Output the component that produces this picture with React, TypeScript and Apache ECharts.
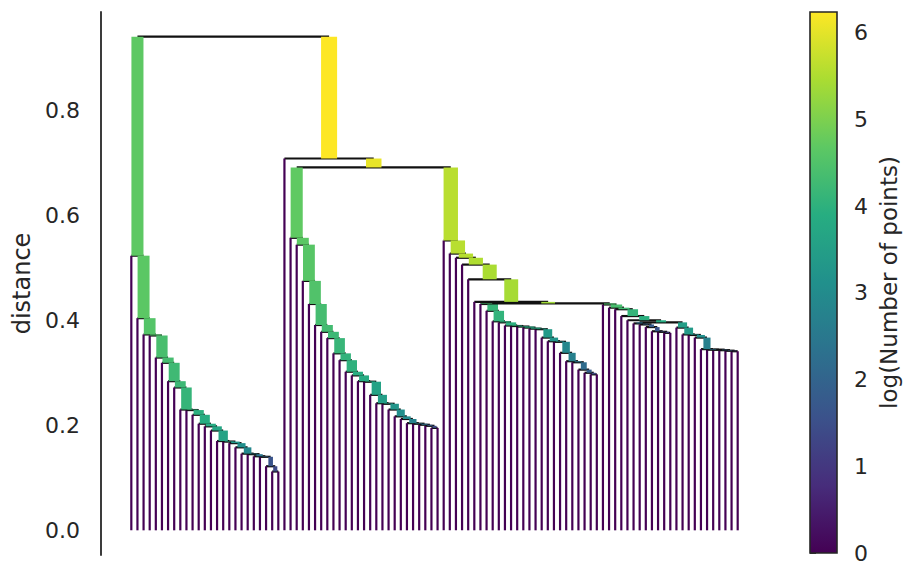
import React, { useEffect, useRef } from "react";
import * as echarts from "echarts";

// Each chain is a staircase of single-linkage merges: entry k joins the k-th leaf
// (counting from the left) to everything on its right. Heights are distances,
// sizes are the number of points in the cluster formed by that merge.
const chainAHeights = [0.523, 0.404, 0.373, 0.371, 0.329, 0.319, 0.284, 0.272, 0.23, 0.229, 0.22, 0.203, 0.198, 0.19, 0.17, 0.169, 0.166, 0.158, 0.146, 0.145, 0.141, 0.14, 0.122, 0.112];
const chainASizes = [108, 105, 95, 90, 81, 77, 70, 67, 60, 57, 52, 49, 45, 40, 37, 33, 27, 22, 18, 15, 11, 8, 5, 4];

const chainBHeights = [0.557, 0.544, 0.475, 0.431, 0.391, 0.378, 0.366, 0.337, 0.324, 0.302, 0.295, 0.284, 0.283, 0.258, 0.242, 0.241, 0.23, 0.217, 0.212, 0.204, 0.203, 0.201, 0.199, 0.195];
const chainBSizes = [110, 105, 99, 90, 77, 74, 67, 63, 57, 55, 49, 47, 45, 37, 33, 30, 26, 22, 19, 16, 12, 9, 6, 4];

// chain C ends on the C1 + C2 merge instead of a leaf
const chainCHeights = [0.552, 0.527, 0.519, 0.506, 0.478, 0.435];
const chainCSizes = [270, 268, 262, 245, 235, 225];

const chainC1Heights = [0.431, 0.418, 0.398, 0.396, 0.39, 0.389, 0.388, 0.386, 0.384, 0.383, 0.367, 0.36, 0.359, 0.338, 0.322, 0.32, 0.306, 0.3, 0.297];
const chainC1Sizes = [80, 62, 58, 55, 52, 50, 48, 45, 42, 38, 30, 25, 22, 18, 15, 12, 9, 6, 4];

// chain C2 ends on the C2a + C2b merge
const chainC2Heights = [0.43, 0.424, 0.421, 0.408, 0.4];
const chainC2Sizes = [85, 80, 72, 60, 52];

const chainC2aHeights = [0.394, 0.392, 0.387, 0.379, 0.378, 0.376];
const chainC2aSizes = [10, 7, 6, 5, 4, 3];

const chainC2bHeights = [0.386, 0.373, 0.372, 0.367, 0.345, 0.344, 0.344, 0.343, 0.342, 0.341];
const chainC2bSizes = [33, 30, 25, 22, 15, 11, 9, 7, 5, 3];

// upper merges: root, right branch, B + C, C1 + C2, C2a + C2b
const joinHeights = [0.94, 0.708, 0.691, 0.432, 0.396];
const joinSizes = [620, 512, 420, 215, 47];

const yTicks = [0, 0.2, 0.4, 0.6, 0.8];
const colorTicks = [0, 1, 2, 3, 4, 5, 6];

// viridis colormap, 9 evenly spaced stops
const VIRIDIS = ["#440154", "#472d7b", "#3b528b", "#2c728e", "#21908c", "#27ad81", "#5dc863", "#aadc32", "#fde725"];

type Leaf = { leaf: true; x: number };
type Join = { leaf: false; left: TreeNode; right: TreeNode; h: number; size: number; x: number };
type TreeNode = Leaf | Join;

const mkLeaf = (): TreeNode => ({ leaf: true, x: 0 });
const mkJoin = (left: TreeNode, right: TreeNode, h: number, size: number): TreeNode => ({ leaf: false, left, right, h, size, x: 0 });

function chain(heights: number[], sizes: number[], tail?: TreeNode): TreeNode {
  let rest = tail ?? mkLeaf();
  for (let k = heights.length - 1; k >= 0; k--) rest = mkJoin(mkLeaf(), rest, heights[k], sizes[k]);
  return rest;
}

function buildTree(): TreeNode {
  const c2ab = mkJoin(chain(chainC2aHeights, chainC2aSizes), chain(chainC2bHeights, chainC2bSizes), joinHeights[4], joinSizes[4]);
  const c2 = chain(chainC2Heights, chainC2Sizes, c2ab);
  const c12 = mkJoin(chain(chainC1Heights, chainC1Sizes), c2, joinHeights[3], joinSizes[3]);
  const c = chain(chainCHeights, chainCSizes, c12);
  const bc = mkJoin(chain(chainBHeights, chainBSizes), c, joinHeights[2], joinSizes[2]);
  const right = mkJoin(mkLeaf(), bc, joinHeights[1], joinSizes[1]);
  return mkJoin(chain(chainAHeights, chainASizes), right, joinHeights[0], joinSizes[0]);
}

function hexToRgb(h: string) {
  return [parseInt(h.slice(1, 3), 16), parseInt(h.slice(3, 5), 16), parseInt(h.slice(5, 7), 16)];
}
function viridis(t: number): string {
  const v = Math.max(0, Math.min(1, t)) * (VIRIDIS.length - 1);
  const i = Math.min(VIRIDIS.length - 2, Math.floor(v));
  const f = v - i;
  const a = hexToRgb(VIRIDIS[i]);
  const b = hexToRgb(VIRIDIS[i + 1]);
  const c = a.map((av, k) => Math.round(av + (b[k] - av) * f));
  return `rgb(${c[0]},${c[1]},${c[2]})`;
}

const PX_PER_PT = 1.78;
const THIN = 2.2; // single-point stems and merge crossbars
const INK = "#262626";
const FONT = "DejaVu Sans";

type Seg = { x1: number; y1: number; x2: number; y2: number; color: string; width: number };

function layout() {
  const root = buildTree();
  let leafCount = 0;
  let maxSize = 1;
  const place = (n: TreeNode): number => {
    if (n.leaf) {
      n.x = 5 + 10 * leafCount++;
      return n.x;
    }
    n.x = (place(n.left) + place(n.right)) / 2;
    return n.x;
  };
  place(root);
  const scan = (n: TreeNode) => {
    if (n.leaf) return;
    if (n !== root) maxSize = Math.max(maxSize, n.size);
    scan(n.left);
    scan(n.right);
  };
  scan(root);
  const logMax = Math.log(maxSize);
  const segs: Seg[] = [];
  const vertical = (child: TreeNode, top: number) => {
    const size = child.leaf ? 1 : child.size;
    segs.push({
      x1: child.x, y1: child.leaf ? 0 : child.h, x2: child.x, y2: top,
      color: viridis(Math.log(size) / logMax),
      width: Math.max(THIN, PX_PER_PT * Math.log2(1 + size)),
    });
  };
  const emit = (n: TreeNode) => {
    if (n.leaf) return;
    emit(n.left);
    emit(n.right);
    segs.push({ x1: n.left.x, y1: n.h, x2: n.right.x, y2: n.h, color: "#111111", width: THIN });
    vertical(n.left, n.h);
    vertical(n.right, n.h);
  };
  emit(root);
  return { segs, leafCount, logMax, top: (root as Join).h };
}

function buildOption() {
  const { segs, leafCount, logMax, top } = layout();
  const span = 10 * leafCount - 10;
  const xMin = 5 - 0.05 * span;
  const xMax = 10 * leafCount - 5 + 0.05 * span;
  const yMin = -0.05 * top;
  const yMax = top * 1.05;

  const stops = VIRIDIS.map((c, i) => ({ offset: i / (VIRIDIS.length - 1), color: c }));

  return {
    animation: false,
    backgroundColor: "#ffffff",
    grid: [
      { left: 101, top: 12, width: 667, height: 543, outerBoundsMode: "none" },
      { left: 810, top: 12, width: 27, height: 541, outerBoundsMode: "none" },
    ],
    xAxis: [
      { gridIndex: 0, type: "value", min: xMin, max: xMax, show: false },
      { gridIndex: 1, type: "value", min: 0, max: 1, show: false },
    ],
    yAxis: [
      {
        gridIndex: 0,
        type: "value",
        min: yMin,
        max: yMax,
        splitLine: { show: false },
        axisTick: { show: false },
        axisLine: { show: true, onZero: false, lineStyle: { color: INK, width: 1.8 } },
        axisLabel: {
          customValues: yTicks,
          formatter: (v: number) => v.toFixed(1),
          margin: 21,
          fontSize: 22,
          color: INK,
          fontFamily: FONT,
        },
        name: "distance",
        nameLocation: "middle",
        nameRotate: 90,
        nameGap: 66,
        nameTextStyle: { fontSize: 24, color: INK, fontFamily: FONT },
      },
      {
        gridIndex: 1,
        type: "value",
        position: "right",
        min: 0,
        max: logMax,
        splitLine: { show: false },
        axisLine: { show: false },
        axisTick: { show: true, customValues: colorTicks, length: 6, lineStyle: { color: INK, width: 1.8 } },
        axisLabel: {
          customValues: colorTicks,
          formatter: (v: number) => String(Math.round(v)),
          margin: 17,
          fontSize: 22,
          color: INK,
          fontFamily: FONT,
        },
        name: "log(Number of points)",
        nameLocation: "middle",
        nameRotate: 90,
        nameGap: 40,
        nameTextStyle: { fontSize: 23, color: INK, fontFamily: FONT },
      },
    ],
    series: [
      {
        type: "custom",
        xAxisIndex: 0,
        yAxisIndex: 0,
        clip: false,
        silent: true,
        encode: { x: [0, 2], y: [1, 3] },
        data: segs.map((s) => [s.x1, s.y1, s.x2, s.y2]),
        renderItem: (params: any, api: any) => {
          const s = segs[params.dataIndex];
          const p1 = api.coord([s.x1, s.y1]);
          const p2 = api.coord([s.x2, s.y2]);
          return {
            type: "line",
            shape: { x1: p1[0], y1: p1[1], x2: p2[0], y2: p2[1] },
            style: { stroke: s.color, lineWidth: s.width, lineCap: "butt", fill: null },
          };
        },
      },
      {
        type: "custom",
        xAxisIndex: 1,
        yAxisIndex: 1,
        clip: false,
        silent: true,
        encode: { x: [0, 2], y: [1, 3] },
        data: [[0, 0, 1, logMax]],
        renderItem: (_params: any, api: any) => {
          const p1 = api.coord([0, 0]);
          const p2 = api.coord([1, logMax]);
          return {
            type: "rect",
            shape: { x: p1[0], y: p2[1], width: p2[0] - p1[0], height: p1[1] - p2[1] },
            style: {
              fill: new echarts.graphic.LinearGradient(0, 1, 0, 0, stops),
              stroke: INK,
              lineWidth: 1.6,
            },
          };
        },
      },
    ],
  };
}

export default function App() {
  const ref = useRef<HTMLDivElement>(null);
  useEffect(() => {
    if (!ref.current) return;
    const chart = echarts.init(ref.current, null, { renderer: "svg" });
    chart.setOption(buildOption() as any);
    return () => chart.dispose();
  }, []);
  return (
    <div
      ref={ref}
      style={{ position: "fixed", left: 0, top: 0, width: 905, height: 562, background: "#ffffff" }}
    />
  );
}
